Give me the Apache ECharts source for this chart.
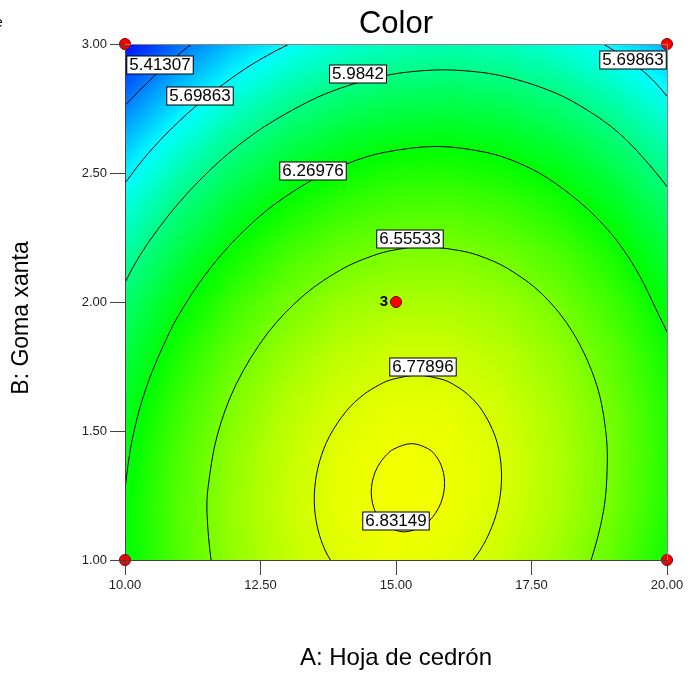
<!DOCTYPE html>
<html><head><meta charset="utf-8">
<script src="https://cdn.jsdelivr.net/npm/echarts/dist/echarts.min.js"></script>
<style>html,body{margin:0;padding:0;background:#fff}#c{width:690px;height:675px}</style>
</head><body><div id="c"></div>
<script>
// ---- data ----
const xTicks = [10, 12.5, 15, 17.5, 20];
const yTicks = [1, 1.5, 2, 2.5, 3];
const gridA = [10, 11, 12, 13, 14, 15, 16, 17, 18, 19, 20];
const gridB = [1.0, 1.2, 1.4, 1.6, 1.8, 2.0, 2.2, 2.4, 2.6, 2.8, 3.0];
// surface values, rows = gridB (1.0 -> 3.0), columns = gridA (10 -> 20)
const surface = [
  [6.268, 6.461, 6.613, 6.722, 6.790, 6.815, 6.799, 6.740, 6.640, 6.497, 6.313],
  [6.274, 6.471, 6.626, 6.738, 6.809, 6.838, 6.825, 6.770, 6.673, 6.534, 6.353],
  [6.253, 6.454, 6.612, 6.728, 6.803, 6.835, 6.825, 6.773, 6.680, 6.544, 6.366],
  [6.207, 6.410, 6.572, 6.692, 6.769, 6.805, 6.799, 6.750, 6.660, 6.528, 6.354],
  [6.134, 6.341, 6.506, 6.629, 6.710, 6.749, 6.746, 6.701, 6.614, 6.485, 6.314],
  [6.034, 6.244, 6.413, 6.539, 6.624, 6.666, 6.667, 6.625, 6.542, 6.416, 6.249],
  [5.908, 6.122, 6.294, 6.424, 6.511, 6.557, 6.561, 6.523, 6.443, 6.321, 6.157],
  [5.756, 5.973, 6.148, 6.281, 6.373, 6.422, 6.429, 6.394, 6.318, 6.199, 6.038],
  [5.577, 5.797, 5.976, 6.113, 6.207, 6.260, 6.271, 6.239, 6.166, 6.051, 5.893],
  [5.372, 5.596, 5.778, 5.918, 6.016, 6.072, 6.086, 6.058, 5.988, 5.876, 5.722],
  [5.140, 5.367, 5.553, 5.696, 5.798, 5.857, 5.875, 5.850, 5.784, 5.675, 5.525]
];
// contour lines [A, B]
const contour541307 = [[10,2.762],[10.265,2.82],[10.559,2.88],[10.878,2.94],[11.227,3.0]];
const contour569863a = [[10,2.460],[10.443,2.58],[10.896,2.68],[11.421,2.78],[12.048,2.88],[12.494,2.94],[13.030,3.0]];
const contour569863b = [[18.825,3.0],[19.270,2.94],[19.640,2.88],[20,2.797]];
const contour59842 = [[10,2.075],[10.273,2.18],[10.600,2.28],[10.976,2.38],[11.416,2.48],[11.935,2.58],[12.574,2.68],[13.416,2.78],[13.992,2.83],[14.644,2.87],[15.171,2.89],[15.876,2.8998],[16.573,2.89],[17.083,2.87],[17.702,2.83],[18.238,2.78],[18.970,2.68],[19.470,2.58],[20,2.447]];
const contour626976 = [[10.010,1.0],[9.979,1.18],[10.004,1.28],[10.145,1.48],[10.411,1.68],[10.815,1.88],[11.078,1.98],[11.391,2.08],[11.762,2.18],[12.212,2.28],[12.769,2.38],[13.513,2.48],[14.145,2.54],[14.786,2.58],[15.755,2.603],[16.660,2.58],[17.250,2.54],[17.800,2.48],[18.430,2.38],[18.910,2.28],[19.270,2.18],[19.550,2.08],[19.780,1.98],[20,1.884]];
const contour655533 = [[11.588,1.0],[11.513,1.18],[11.532,1.28],[11.698,1.48],[12.048,1.68],[12.634,1.88],[13.320,2.03],[14.025,2.13],[14.580,2.18],[14.928,2.20],[15.500,2.215],[16.150,2.20],[16.530,2.18],[17.060,2.13],[17.700,2.03],[18.270,1.88],[18.700,1.68],[18.880,1.48],[18.890,1.32],[18.820,1.18],[18.600,1.0]];
const contour677896 = [[13.790,1.0],[13.612,1.08],[13.507,1.18],[13.501,1.28],[13.587,1.38],[13.774,1.48],[14.094,1.58],[14.397,1.64],[14.699,1.68],[14.931,1.70],[15.396,1.716],[15.849,1.70],[16.065,1.68],[16.335,1.64],[16.588,1.58],[16.828,1.48],[16.933,1.38],[16.939,1.28],[16.853,1.18],[16.666,1.08],[16.424,1.0]];
const contour683149 = [[15.151,1.109],[15.480,1.13],[15.650,1.16],[15.782,1.20],[15.858,1.24],[15.893,1.28],[15.890,1.32],[15.846,1.36],[15.748,1.40],[15.602,1.43],[15.289,1.451],[14.960,1.43],[14.790,1.40],[14.658,1.36],[14.582,1.32],[14.547,1.28],[14.550,1.24],[14.594,1.20],[14.692,1.16],[14.838,1.13],[15.151,1.109]];
const contourLabels = [[10.646,2.919,'5.41307'],[11.384,2.798,'5.69863'],[19.373,2.938,'5.69863'],[14.299,2.884,'5.9842'],[13.469,2.508,'6.26976'],[15.258,2.244,'6.55533'],[15.498,1.748,'6.77896'],[15.0,1.151,'6.83149']];
const designPoints = [[10,1],[10,3],[20,1],[20,3]];
const centerPoint = [15,2];
const centerRuns = '3';
const titleText = 'Color';
const xTitle = 'A: Hoja de cedr\u00f3n';
const yTitle = 'B: Goma xanta';

// ---- colour ramp (style) ----
const rampV = [5.12, 5.70, 6.28, 6.86];
const rampC = [[0,0,255],[0,255,255],[0,255,0],[255,255,0]];
function ramp(v){
  if (v <= rampV[0]) return 'rgb(0,0,255)';
  for (let i=0;i<rampV.length-1;i++){
    if (v <= rampV[i+1]){
      const t=(v-rampV[i])/(rampV[i+1]-rampV[i]);
      const a=rampC[i], b=rampC[i+1];
      return 'rgb('+Math.round(a[0]+(b[0]-a[0])*t)+','+Math.round(a[1]+(b[1]-a[1])*t)+','+Math.round(a[2]+(b[2]-a[2])*t)+')';
    }
  }
  return 'rgb(255,255,0)';
}

const cells = [];
for (let j=0;j<gridB.length-1;j++){
  for (let i=0;i<gridA.length-1;i++){
    cells.push([gridA[i],gridB[j],gridA[i+1],gridB[j+1],surface[j][i],surface[j][i+1],surface[j+1][i],surface[j+1][i+1]]);
  }
}

function renderCell(params, api){
  const p0 = api.coord([api.value(0), api.value(1)]);
  const p1 = api.coord([api.value(2), api.value(3)]);
  const x0=p0[0], yb=p0[1], x1=p1[0], yt=p1[1];
  const W=x1-x0, H=yb-yt;
  const v00=api.value(4), v10=api.value(5), v01=api.value(6), v11=api.value(7);
  const vc=(v00+v10+v01+v11)/4;
  const gx=((v10+v11)-(v00+v01))/2/W;
  const gy=-((v01+v11)-(v00+v10))/2/H;
  const g=Math.sqrt(gx*gx+gy*gy);
  const cx=(x0+x1)/2, cy=(yb+yt)/2;
  let fill;
  if (g < 1e-9){ fill = ramp(vc); }
  else {
    const t=Math.sqrt(W*W+H*H)/2+1;
    const ux=gx/g, uy=gy/g;
    const stops=[];
    for (let k=0;k<=8;k++){
      const off=k/8;
      stops.push({offset:off, color:ramp(vc+(2*off-1)*t*g)});
    }
    fill={type:'linear', x:cx-ux*t, y:cy-uy*t, x2:cx+ux*t, y2:cy+uy*t, colorStops:stops, global:true};
  }
  return {type:'rect', shape:{x:x0-0.6, y:yt-0.6, width:W+1.2, height:H+1.2}, style:{fill:fill, stroke:null}};
}

// smooth curve through the contour's points (drawing only)
function smoothPath(P){
  const n=P.length;
  const closed = n>2 && Math.abs(P[0][0]-P[n-1][0])<0.01 && Math.abs(P[0][1]-P[n-1][1])<0.01;
  const unit=(v)=>{const l=Math.hypot(v[0],v[1])||1; return [v[0]/l,v[1]/l];};
  const T=[];
  for (let i=0;i<n;i++){
    let prev = i>0 ? P[i-1] : (closed ? P[n-2] : null);
    let next = i<n-1 ? P[i+1] : (closed ? P[1] : null);
    if (prev && next) T.push(unit([next[0]-prev[0], next[1]-prev[1]]));
    else T.push(null);
  }
  if (!closed){
    if (n>2){
      const u0=unit([P[1][0]-P[0][0],P[1][1]-P[0][1]]);
      T[0]=unit([2*u0[0]-T[1][0], 2*u0[1]-T[1][1]]);
      const un=unit([P[n-1][0]-P[n-2][0],P[n-1][1]-P[n-2][1]]);
      T[n-1]=unit([2*un[0]-T[n-2][0], 2*un[1]-T[n-2][1]]);
    } else {
      const u=unit([P[1][0]-P[0][0],P[1][1]-P[0][1]]); T[0]=u; T[1]=u;
    }
  }
  let d='M'+P[0][0].toFixed(2)+' '+P[0][1].toFixed(2);
  for (let i=0;i<n-1;i++){
    const a=P[i], b=P[i+1];
    const L=Math.hypot(b[0]-a[0], b[1]-a[1])/3;
    d+=' C'+(a[0]+T[i][0]*L).toFixed(2)+' '+(a[1]+T[i][1]*L).toFixed(2)+' '
         +(b[0]-T[i+1][0]*L).toFixed(2)+' '+(b[1]-T[i+1][1]*L).toFixed(2)+' '
         +b[0].toFixed(2)+' '+b[1].toFixed(2);
  }
  return d;
}
function contourSeries(name, pts){
  return {name:name, type:'custom', data:pts, encode:{x:0, y:1}, clip:true, z:3, silent:true,
    renderItem:function(params, api){
      if (params.dataIndex !== 0) return null;
      const P = pts.map(p=>api.coord(p));
      return {type:'path', shape:{pathData:smoothPath(P)}, style:{fill:null, stroke:'#000', lineWidth:1}};
    }};
}

const FONT = "'Liberation Sans', Arial, sans-serif";
const chart = echarts.init(document.getElementById('c'), null, {renderer:'canvas'});
chart.setOption({
  animation:false,
  backgroundColor:'#fff',
  grid:{left:125, right:23, top:44, bottom:115, show:false},
  xAxis:[{
    type:'value', min:xTicks[0], max:xTicks[xTicks.length-1], interval:xTicks[1]-xTicks[0], z:10,
    axisLine:{show:true, lineStyle:{color:'#444', width:1}},
    axisTick:{show:true, length:15, lineStyle:{color:'#444'}},
    axisLabel:{margin:19, fontSize:13, color:'#222', fontFamily:FONT, formatter:v=>v.toFixed(2)},
    splitLine:{show:false}
  },{
    type:'value', position:'top', min:xTicks[0], max:xTicks[xTicks.length-1], z:10,
    axisLine:{show:true, lineStyle:{color:'#888', width:1}}, axisTick:{show:false}, axisLabel:{show:false}, splitLine:{show:false}
  }],
  yAxis:[{
    type:'value', min:yTicks[0], max:yTicks[yTicks.length-1], interval:yTicks[1]-yTicks[0], z:10,
    axisLine:{show:true, lineStyle:{color:'#444', width:1}},
    axisTick:{show:true, length:15, lineStyle:{color:'#444'}},
    axisLabel:{margin:18, fontSize:13, color:'#222', fontFamily:FONT, formatter:v=>v.toFixed(2)},
    splitLine:{show:false}
  },{
    type:'value', position:'right', min:yTicks[0], max:yTicks[yTicks.length-1], z:10,
    axisLine:{show:true, lineStyle:{color:'#888', width:1}}, axisTick:{show:false}, axisLabel:{show:false}, splitLine:{show:false}
  }],
  series:[
    {type:'custom', data:cells, renderItem:renderCell, encode:{x:[0,2], y:[1,3]}, clip:true, z:1, silent:true},
    contourSeries('5.41307', contour541307),
    contourSeries('5.69863a', contour569863a),
    contourSeries('5.69863b', contour569863b),
    contourSeries('5.9842', contour59842),
    contourSeries('6.26976', contour626976),
    contourSeries('6.55533', contour655533),
    contourSeries('6.77896', contour677896),
    contourSeries('6.83149', contour683149),
    {type:'scatter', data:contourLabels, symbolSize:0, z:5, silent:true, clip:false,
      itemStyle:{opacity:1},
      label:{show:true, position:'inside', formatter:p=>p.data[2], color:'#000', fontSize:17, fontFamily:FONT, opacity:1,
        backgroundColor:'#ffffff', borderColor:'#000', borderWidth:1, padding:[1,2,0,2], lineHeight:16}},
    {type:'scatter', data:designPoints.concat([centerPoint]), symbolSize:11, z:6, silent:true, clip:false,
      itemStyle:{color:'#ff0000', borderColor:'#700', borderWidth:1, opacity:1},
      label:{show:true, position:'left', distance:2, fontWeight:'bold', fontSize:15, color:'#000', fontFamily:FONT,
        formatter:p=>(p.data[0]===centerPoint[0]&&p.data[1]===centerPoint[1])?centerRuns:''}}
  ],
  graphic:[
    {type:'text', x:396, y:24, style:{text:titleText, font:'31px '+FONT, fill:'#000', align:'center', verticalAlign:'middle', textAlign:'center', textVerticalAlign:'middle'}},
    {type:'text', x:396, y:658, style:{text:xTitle, font:'24px '+FONT, fill:'#000', align:'center', verticalAlign:'middle', textAlign:'center', textVerticalAlign:'middle'}},
    {type:'text', x:22, y:318, rotation:Math.PI/2, style:{text:yTitle, font:'23px '+FONT, fill:'#000', align:'center', verticalAlign:'middle', textAlign:'center', textVerticalAlign:'middle'}},
    {type:'text', x:-5, y:23, style:{text:'e', font:'14px '+FONT, fill:'#000', align:'left', verticalAlign:'middle', textAlign:'left', textVerticalAlign:'middle'}}
  ]
});
</script></body></html>
